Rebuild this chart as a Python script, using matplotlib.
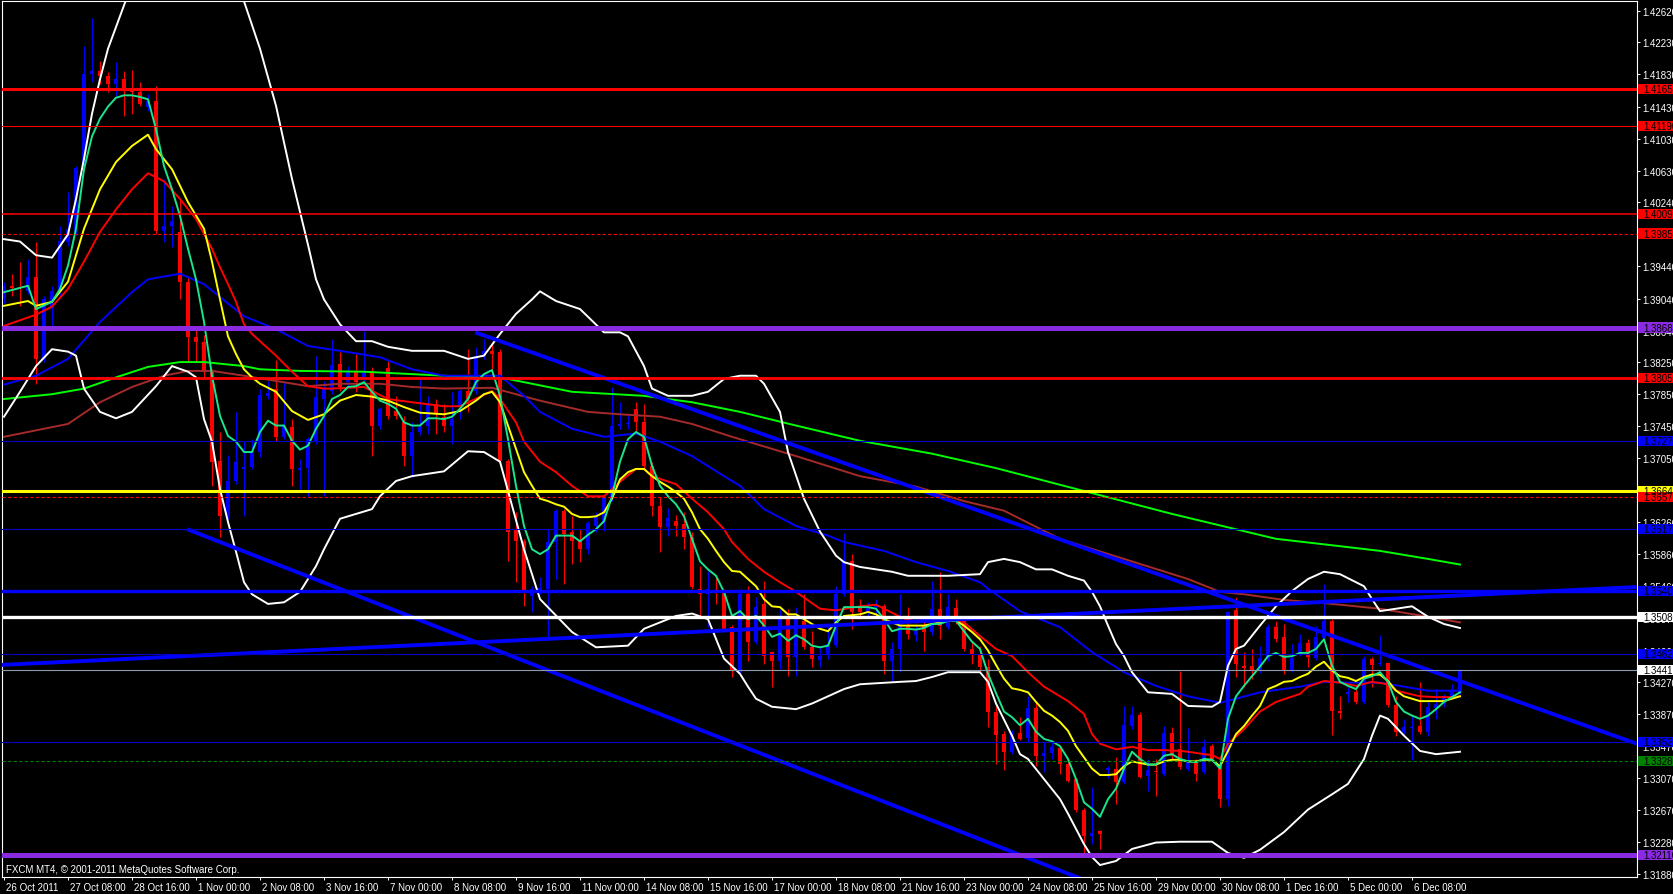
import matplotlib
matplotlib.use("Agg")
import matplotlib.pyplot as plt
from matplotlib.patches import Rectangle
from matplotlib.transforms import blended_transform_factory, ScaledTranslation

plt.rcParams['font.family'] = ['Liberation Sans', 'DejaVu Sans']

# ----------------------------------------------
#            DATA  (EURUSD, H4 candles)
# ----------------------------------------------
time_labels = ["26 Oct 2011", "27 Oct 08:00", "28 Oct 16:00", "1 Nov 00:00", "2 Nov 08:00",
               "3 Nov 16:00", "7 Nov 00:00", "8 Nov 08:00", "9 Nov 16:00", "11 Nov 00:00",
               "14 Nov 08:00", "15 Nov 16:00", "17 Nov 00:00", "18 Nov 08:00", "21 Nov 16:00",
               "23 Nov 00:00", "24 Nov 08:00", "25 Nov 16:00", "29 Nov 00:00", "30 Nov 08:00",
               "1 Dec 16:00", "5 Dec 00:00", "6 Dec 08:00"]
time_label_bars = [0, 8, 16, 24, 32, 40, 48, 56, 64, 72, 80, 88, 96, 104, 112, 120,
                   128, 136, 144, 152, 160, 168, 176]

price_ticks = [1.42620, 1.42230, 1.41830, 1.41430, 1.41030, 1.40630, 1.40240, 1.39840,
               1.39440, 1.39040, 1.38640, 1.38250, 1.37850, 1.37450, 1.37050, 1.36650,
               1.36260, 1.35860, 1.35460, 1.35070, 1.34660, 1.34270, 1.33870, 1.33470,
               1.33070, 1.32670, 1.32280, 1.31880]

open_ = [1.3903, 1.3920, 1.3918, 1.3914, 1.3931, 1.3829, 1.3891, 1.3914, 1.3974, 1.3987,
         1.4067, 1.4184, 1.4187, 1.4181, 1.4171, 1.4177, 1.4165, 1.4161, 1.4143, 1.4150,
         1.3988, 1.3994, 1.3987, 1.3925, 1.3856, 1.3850, 1.3813, 1.3702, 1.3633, 1.3677,
         1.3692, 1.3694, 1.3713, 1.3783, 1.3792, 1.3732, 1.3744, 1.3691, 1.3693, 1.3726,
         1.3779, 1.3789, 1.3823, 1.3800, 1.3813, 1.3806, 1.3814, 1.3746, 1.3818, 1.3764,
         1.3750, 1.3708, 1.3738, 1.3746, 1.3773, 1.3757, 1.3746, 1.3769, 1.3789, 1.3789,
         1.3831, 1.3839, 1.3838, 1.3702, 1.3617, 1.3602, 1.3534, 1.3541, 1.3543, 1.3601,
         1.3640, 1.3614, 1.3602, 1.3592, 1.3621, 1.3626, 1.3655, 1.3746, 1.3748, 1.3767,
         1.3750, 1.3696, 1.3646, 1.3620, 1.3627, 1.3623, 1.3607, 1.3543, 1.3536, 1.3541,
         1.3539, 1.3495, 1.3439, 1.3536, 1.3477, 1.3524, 1.3464, 1.3453, 1.3505, 1.3458,
         1.3503, 1.3470, 1.3454, 1.3460, 1.3473, 1.3536, 1.3577, 1.3521, 1.3514, 1.3520,
         1.3521, 1.3453, 1.3468, 1.3497, 1.3485, 1.3497, 1.3489, 1.3518, 1.3495, 1.3519,
         1.3503, 1.3468, 1.3460, 1.3446, 1.3390, 1.3362, 1.3340, 1.3363, 1.3357, 1.3395,
         1.3335, 1.3338, 1.3345, 1.3325, 1.3306, 1.3268, 1.3235, 1.3241, 1.3317, 1.3319,
         1.3302, 1.3372, 1.3386, 1.3310, 1.3316, 1.3312, 1.3363, 1.3344, 1.3319, 1.3327,
         1.3315, 1.3347, 1.3322, 1.3281, 1.3516, 1.3447, 1.3447, 1.3441, 1.3456, 1.3495,
         1.3483, 1.3442, 1.3463, 1.3475, 1.3457, 1.3482, 1.3503, 1.3391, 1.3412, 1.3414,
         1.3402, 1.3456, 1.3449, 1.3450, 1.3398, 1.3365, 1.3370, 1.3372, 1.3365, 1.3395,
         1.3400, 1.3410, 1.3414]
high = [1.3925, 1.3935, 1.3950, 1.3953, 1.3975, 1.3907, 1.3920, 1.3994, 1.4037, 1.4069,
        1.4218, 1.4253, 1.4200, 1.4186, 1.4199, 1.4187, 1.4189, 1.4174, 1.4159, 1.4169,
        1.4053, 1.4019, 1.4028, 1.3931, 1.3866, 1.3859, 1.3816, 1.3738, 1.3709, 1.3763,
        1.3727, 1.3729, 1.3792, 1.3801, 1.3828, 1.3801, 1.3754, 1.3704, 1.3732, 1.3833,
        1.3801, 1.3854, 1.3838, 1.3820, 1.3835, 1.3864, 1.3819, 1.3769, 1.3826, 1.3783,
        1.3758, 1.3750, 1.3804, 1.3783, 1.3779, 1.3773, 1.3788, 1.3792, 1.3841, 1.3844,
        1.3854, 1.3850, 1.3841, 1.3704, 1.3638, 1.3605, 1.3546, 1.3558, 1.3617, 1.3642,
        1.3642, 1.3633, 1.3617, 1.3627, 1.3638, 1.3658, 1.3794, 1.3775, 1.3760, 1.3775,
        1.3773, 1.3701, 1.3657, 1.3643, 1.3635, 1.3638, 1.3614, 1.3571, 1.3565, 1.3559,
        1.3543, 1.3498, 1.3543, 1.3546, 1.3533, 1.3552, 1.3466, 1.3518, 1.3518, 1.3520,
        1.3536, 1.3490, 1.3472, 1.3497, 1.3546, 1.3612, 1.3586, 1.3530, 1.3526, 1.3530,
        1.3524, 1.3477, 1.3536, 1.3520, 1.3497, 1.3505, 1.3552, 1.3564, 1.3536, 1.3530,
        1.3505, 1.3477, 1.3472, 1.3456, 1.3397, 1.3366, 1.3367, 1.3383, 1.3409, 1.3402,
        1.3352, 1.3354, 1.3347, 1.3327, 1.3307, 1.3270, 1.3296, 1.3242, 1.3322, 1.3333,
        1.3397, 1.3397, 1.3390, 1.3331, 1.3331, 1.3372, 1.3371, 1.3441, 1.3369, 1.3331,
        1.3356, 1.3350, 1.3325, 1.3515, 1.3533, 1.3464, 1.3468, 1.3472, 1.3499, 1.3503,
        1.3499, 1.3474, 1.3486, 1.3480, 1.3497, 1.3549, 1.3505, 1.3409, 1.3421, 1.3422,
        1.3459, 1.3458, 1.3485, 1.3451, 1.3409, 1.3381, 1.3385, 1.3427, 1.3402, 1.3418,
        1.3412, 1.3424, 1.3443]
low = [1.3899, 1.3907, 1.3895, 1.3910, 1.3798, 1.3825, 1.3864, 1.3907, 1.3970, 1.3983,
       1.4063, 1.4174, 1.4171, 1.4161, 1.4156, 1.4131, 1.4134, 1.4144, 1.4138, 1.3984,
       1.3974, 1.3968, 1.3903, 1.3826, 1.3826, 1.3804, 1.3671, 1.3607, 1.3630, 1.3673,
       1.3633, 1.3692, 1.3707, 1.3779, 1.3727, 1.3729, 1.3671, 1.3667, 1.3657, 1.3723,
       1.3658, 1.3785, 1.3789, 1.3794, 1.3788, 1.3801, 1.3708, 1.3742, 1.3754, 1.3754,
       1.3696, 1.3682, 1.3734, 1.3736, 1.3736, 1.3738, 1.3723, 1.3754, 1.3763, 1.3785,
       1.3829, 1.3808, 1.3698, 1.3577, 1.3551, 1.3521, 1.3514, 1.3536, 1.3480, 1.3555,
       1.3549, 1.3574, 1.3576, 1.3586, 1.3613, 1.3615, 1.3652, 1.3742, 1.3742, 1.3738,
       1.3692, 1.3633, 1.3589, 1.3609, 1.3609, 1.3592, 1.3543, 1.3509, 1.3495, 1.3524,
       1.3490, 1.3433, 1.3437, 1.3453, 1.3474, 1.3449, 1.3421, 1.3443, 1.3434, 1.3434,
       1.3468, 1.3446, 1.3446, 1.3456, 1.3470, 1.3534, 1.3493, 1.3505, 1.3508, 1.3511,
       1.3437, 1.3428, 1.3439, 1.3480, 1.3478, 1.3465, 1.3485, 1.3480, 1.3493, 1.3499,
       1.3465, 1.3449, 1.3439, 1.3371, 1.3325, 1.3317, 1.3337, 1.3355, 1.3352, 1.3322,
       1.3315, 1.3331, 1.3312, 1.3302, 1.3265, 1.3213, 1.3225, 1.3219, 1.3307, 1.3275,
       1.3300, 1.3368, 1.3307, 1.3291, 1.3285, 1.3310, 1.3331, 1.3319, 1.3316, 1.3304,
       1.3312, 1.3328, 1.3271, 1.3272, 1.3433, 1.3421, 1.3431, 1.3438, 1.3453, 1.3477,
       1.3437, 1.3439, 1.3459, 1.3446, 1.3454, 1.3479, 1.3361, 1.3381, 1.3402, 1.3399,
       1.3399, 1.3421, 1.3447, 1.3396, 1.3360, 1.3362, 1.3330, 1.3362, 1.3360, 1.3381,
       1.3396, 1.3407, 1.3412]
close_ = [1.3920, 1.3917, 1.3917, 1.3931, 1.3829, 1.3903, 1.3914, 1.3976, 1.3991, 1.4067,
          1.4184, 1.4187, 1.4181, 1.4171, 1.4177, 1.4165, 1.4161, 1.4146, 1.4150, 1.3988,
          1.3994, 1.4001, 1.3925, 1.3856, 1.3850, 1.3813, 1.3701, 1.3633, 1.3677, 1.3701,
          1.3694, 1.3714, 1.3784, 1.3786, 1.3732, 1.3746, 1.3692, 1.3693, 1.3729, 1.3782,
          1.3792, 1.3821, 1.3794, 1.3813, 1.3800, 1.3813, 1.3746, 1.3767, 1.3758, 1.3758,
          1.3708, 1.3738, 1.3744, 1.3773, 1.3760, 1.3746, 1.3754, 1.3789, 1.3779, 1.3833,
          1.3839, 1.3835, 1.3702, 1.3614, 1.3602, 1.3540, 1.3543, 1.3544, 1.3601, 1.3640,
          1.3611, 1.3602, 1.3592, 1.3625, 1.3633, 1.3656, 1.3746, 1.3748, 1.3749, 1.3750,
          1.3696, 1.3646, 1.3620, 1.3631, 1.3621, 1.3607, 1.3545, 1.3536, 1.3543, 1.3539,
          1.3493, 1.3441, 1.3536, 1.3477, 1.3520, 1.3459, 1.3453, 1.3505, 1.3458, 1.3505,
          1.3470, 1.3456, 1.3459, 1.3474, 1.3536, 1.3577, 1.3514, 1.3514, 1.3520, 1.3521,
          1.3453, 1.3468, 1.3503, 1.3487, 1.3490, 1.3489, 1.3518, 1.3497, 1.3520, 1.3503,
          1.3468, 1.3460, 1.3446, 1.3390, 1.3361, 1.3340, 1.3363, 1.3356, 1.3395, 1.3335,
          1.3338, 1.3346, 1.3325, 1.3304, 1.3268, 1.3235, 1.3239, 1.3238, 1.3320, 1.3302,
          1.3373, 1.3386, 1.3309, 1.3317, 1.3315, 1.3363, 1.3335, 1.3321, 1.3327, 1.3312,
          1.3346, 1.3331, 1.3281, 1.3514, 1.3449, 1.3444, 1.3441, 1.3457, 1.3495, 1.3480,
          1.3441, 1.3457, 1.3475, 1.3458, 1.3483, 1.3503, 1.3391, 1.3388, 1.3414, 1.3402,
          1.3456, 1.3448, 1.3450, 1.3398, 1.3365, 1.3371, 1.3371, 1.3365, 1.3396, 1.3400,
          1.3410, 1.3416, 1.3441]

# fast moving average (spring green)
fast_bars = [0, 3, 4] + list(range(6, 183))
fast_vals = [1.3912, 1.3920, 1.3891, 1.3900, 1.3916, 1.3945, 1.3991, 1.4065, 1.4106, 1.4128,
             1.4143, 1.4154, 1.4157, 1.4157, 1.4155, 1.4152, 1.4115, 1.4069, 1.4040, 1.4007,
             1.3966, 1.3928, 1.3875, 1.3808, 1.3758, 1.3733, 1.3726, 1.3713, 1.3713, 1.3738,
             1.3752, 1.3746, 1.3746, 1.3727, 1.3716, 1.3721, 1.3742, 1.3758, 1.3779, 1.3784,
             1.3794, 1.3795, 1.3800, 1.3788, 1.3777, 1.3773, 1.3767, 1.3750, 1.3746, 1.3746,
             1.3755, 1.3755, 1.3754, 1.3757, 1.3767, 1.3779, 1.3800, 1.3810, 1.3815, 1.3783,
             1.3729, 1.3671, 1.3621, 1.3592, 1.3586, 1.3592, 1.3609, 1.3609, 1.3609, 1.3602,
             1.3610, 1.3617, 1.3627, 1.3658, 1.3701, 1.3729, 1.3738, 1.3732, 1.3696, 1.3671,
             1.3658, 1.3648, 1.3633, 1.3605, 1.3577, 1.3567, 1.3559, 1.3539, 1.3509, 1.3515,
             1.3505, 1.3509, 1.3497, 1.3483, 1.3487, 1.3478, 1.3485, 1.3480, 1.3472, 1.3470,
             1.3472, 1.3497, 1.3520, 1.3520, 1.3520, 1.3520, 1.3518, 1.3505, 1.3490, 1.3493,
             1.3493, 1.3492, 1.3494, 1.3499, 1.3499, 1.3503, 1.3503, 1.3490, 1.3477, 1.3468,
             1.3437, 1.3413, 1.3390, 1.3383, 1.3373, 1.3381, 1.3365, 1.3356, 1.3353, 1.3347,
             1.3331, 1.3306, 1.3277, 1.3269, 1.3259, 1.3281, 1.3294, 1.3319, 1.3340, 1.3331,
             1.3324, 1.3324, 1.3335, 1.3337, 1.3331, 1.3328, 1.3327, 1.3331, 1.3330, 1.3319,
             1.3381, 1.3409, 1.3422, 1.3434, 1.3446, 1.3459, 1.3463, 1.3458, 1.3459, 1.3463,
             1.3463, 1.3468, 1.3480, 1.3447, 1.3427, 1.3422, 1.3418, 1.3431, 1.3434, 1.3439,
             1.3427, 1.3402, 1.3390, 1.3385, 1.3381, 1.3385, 1.3393, 1.3402, 1.3408, 1.3414]

# yellow moving average
yellow_bars = [0, 3, 4, 6, 8, 10, 12, 14, 16, 18,
               19, 21, 23, 25, 26, 27, 28, 29, 30, 31,
               32, 34, 36, 38, 40, 42, 44, 46, 48, 50,
               52, 55, 57, 59, 60, 61] + list(range(62, 183))
yellow_vals = [1.3895, 1.3901, 1.3895, 1.3900, 1.3925, 1.3991, 1.4040, 1.4074, 1.4094, 1.4108,
               1.4090, 1.4065, 1.4024, 1.3991, 1.3950, 1.3903, 1.3857, 1.3835, 1.3816, 1.3806,
               1.3798, 1.3788, 1.3764, 1.3753, 1.3760, 1.3777, 1.3784, 1.3782, 1.3777, 1.3769,
               1.3762, 1.3760, 1.3764, 1.3777, 1.3785, 1.3788,
               1.3775, 1.3746, 1.3717, 1.3688, 1.3671, 1.3655, 1.3652, 1.3648, 1.3645, 1.3636,
               1.3632, 1.3632, 1.3633, 1.3638, 1.3655, 1.3679, 1.3688, 1.3692, 1.3692, 1.3683,
               1.3676, 1.3670, 1.3663, 1.3655, 1.3638, 1.3617, 1.3605, 1.3590, 1.3576, 1.3565,
               1.3564, 1.3555, 1.3546, 1.3530, 1.3521, 1.3520, 1.3511, 1.3511, 1.3505, 1.3499,
               1.3493, 1.3490, 1.3501, 1.3509, 1.3510, 1.3511, 1.3514, 1.3511, 1.3505, 1.3501,
               1.3497, 1.3497, 1.3497, 1.3497, 1.3499, 1.3501, 1.3503, 1.3503, 1.3497, 1.3489,
               1.3480, 1.3466, 1.3448, 1.3431, 1.3419, 1.3417, 1.3414, 1.3402, 1.3391, 1.3385,
               1.3377, 1.3366, 1.3347, 1.3333, 1.3319, 1.3311, 1.3311, 1.3312, 1.3322, 1.3328,
               1.3326, 1.3324, 1.3324, 1.3328, 1.3330, 1.3330, 1.3328, 1.3328, 1.3330, 1.3330,
               1.3322, 1.3341, 1.3362, 1.3372, 1.3385, 1.3397, 1.3418, 1.3422, 1.3427, 1.3428,
               1.3433, 1.3437, 1.3446, 1.3452, 1.3441, 1.3434, 1.3432, 1.3428, 1.3433, 1.3436,
               1.3436, 1.3428, 1.3416, 1.3409, 1.3406, 1.3403, 1.3403, 1.3403, 1.3403, 1.3406,
               1.3409]

# red moving average
red_bars = [0, 4, 6, 8, 10, 12, 14, 16, 18, 20,
            22, 24, 26, 27, 28, 29, 30, 31, 32, 34,
            36, 38, 40, 41, 45, 48, 51, 55, 57, 61,
            62, 64, 65, 67, 69, 71, 73, 75, 77, 79,
            80, 81, 84, 86, 88, 90, 91, 93, 95, 97,
            99, 102, 104, 107, 109, 110, 112, 114, 116, 118,
            120, 122, 124, 126, 128, 130, 133, 135, 136, 137,
            139, 141, 143, 145, 147, 148, 150, 151, 152, 153,
            155, 157, 159, 162, 163, 165, 167, 169, 171, 173,
            174, 177, 179, 181, 182]
red_vals = [1.3870, 1.3884, 1.3894, 1.3916, 1.3950, 1.3987, 1.4015, 1.4040, 1.4060, 1.4050,
            1.4028, 1.4003, 1.3966, 1.3943, 1.3922, 1.3900, 1.3872, 1.3860, 1.3851, 1.3833,
            1.3813, 1.3795, 1.3792, 1.3792, 1.3794, 1.3779, 1.3775, 1.3770, 1.3770, 1.3789,
            1.3779, 1.3750, 1.3726, 1.3701, 1.3688, 1.3671, 1.3658, 1.3658, 1.3676, 1.3692,
            1.3692, 1.3683, 1.3673, 1.3655, 1.3638, 1.3617, 1.3601, 1.3580, 1.3564, 1.3551,
            1.3539, 1.3518, 1.3516, 1.3521, 1.3523, 1.3518, 1.3508, 1.3501, 1.3503, 1.3505,
            1.3501, 1.3484, 1.3468, 1.3459, 1.3439, 1.3421, 1.3403, 1.3387, 1.3362, 1.3350,
            1.3343, 1.3346, 1.3342, 1.3342, 1.3341, 1.3340, 1.3337, 1.3336, 1.3331, 1.3350,
            1.3368, 1.3390, 1.3402, 1.3412, 1.3421, 1.3428, 1.3426, 1.3422, 1.3427, 1.3424,
            1.3416, 1.3409, 1.3408, 1.3408, 1.3409]

# blue moving average
blue_bars = [0, 4, 8, 12, 16, 18, 22, 25, 30, 34,
             38, 42, 47, 51, 55, 62, 65, 67, 71, 75,
             79, 82, 86, 90, 92, 95, 99, 103, 105, 110,
             114, 118, 122, 123, 127, 132, 136, 140, 144, 148,
             152, 154, 157, 162, 165, 168, 172, 175, 178, 182]
blue_vals = [1.3797, 1.3808, 1.3829, 1.3875, 1.3912, 1.3928, 1.3935, 1.3922, 1.3882, 1.3866,
             1.3845, 1.3839, 1.3831, 1.3816, 1.3808, 1.3808, 1.3783, 1.3763, 1.3742, 1.3732,
             1.3736, 1.3726, 1.3708, 1.3683, 1.3671, 1.3642, 1.3621, 1.3609, 1.3601, 1.3590,
             1.3576, 1.3565, 1.3551, 1.3543, 1.3515, 1.3495, 1.3464, 1.3439, 1.3422, 1.3409,
             1.3401, 1.3406, 1.3414, 1.3421, 1.3427, 1.3426, 1.3426, 1.3421, 1.3416, 1.3416]

# brown moving average
brown_bars = [0, 8, 12, 16, 20, 23, 26, 30, 38, 42,
              47, 51, 55, 61, 67, 73, 77, 82, 86, 91,
              99, 107, 114, 120, 125, 132, 140, 148, 152, 155,
              160, 166, 172, 178, 182]
brown_vals = [1.3732, 1.3748, 1.3775, 1.3794, 1.3808, 1.3814, 1.3814, 1.3808, 1.3795, 1.3798,
              1.3798, 1.3794, 1.3792, 1.3793, 1.3777, 1.3763, 1.3760, 1.3757, 1.3748, 1.3732,
              1.3708, 1.3683, 1.3670, 1.3652, 1.3640, 1.3605, 1.3580, 1.3555, 1.3539, 1.3536,
              1.3529, 1.3524, 1.3518, 1.3508, 1.3501]

# slow green moving average
green_bars = [0, 6, 10, 14, 18, 22, 25, 30, 32, 37,
              45, 55, 63, 71, 80, 86, 92, 99, 107, 116,
              124, 146, 159, 166, 172, 178, 182]
green_vals = [1.3779, 1.3785, 1.3792, 1.3806, 1.3819, 1.3825, 1.3825, 1.3820, 1.3816, 1.3814,
              1.3813, 1.3808, 1.3804, 1.3788, 1.3783, 1.3775, 1.3763, 1.3746, 1.3727, 1.3711,
              1.3693, 1.3636, 1.3605, 1.3597, 1.3590, 1.3580, 1.3573]

# bollinger bands
bb_up_bars = [0, 2, 4, 6, 8, 9, 10, 11, 12, 13,
              14, 16, 19, 22, 25, 28, 30, 32, 34, 36,
              38, 39, 40, 42, 44, 46, 48, 51, 55, 58,
              60, 62, 64, 66, 67, 69, 72, 75, 77, 78,
              80, 81, 83, 86, 88, 90, 92, 94, 95, 97,
              98, 100, 102, 104, 105, 107, 111, 113, 118, 122,
              123, 125, 127, 129, 131, 133, 135, 136, 137, 138,
              139, 140, 141, 143, 146, 148, 151, 152, 153, 154,
              155, 157, 159, 161, 163, 165, 167, 169, 170, 171,
              172, 174, 176, 178, 180, 182]
bb_up_vals = [1.3978, 1.3975, 1.3958, 1.3955, 1.3984, 1.4028, 1.4078, 1.4134, 1.4177, 1.4215,
              1.4242, 1.4296, 1.4352, 1.4376, 1.4364, 1.4314, 1.4274, 1.4215, 1.4144, 1.4053,
              1.3971, 1.3928, 1.3903, 1.3872, 1.3851, 1.3851, 1.3844, 1.3839, 1.3839, 1.3829,
              1.3833, 1.3860, 1.3885, 1.3903, 1.3913, 1.3901, 1.3891, 1.3862, 1.3862, 1.3857,
              1.3820, 1.3792, 1.3783, 1.3783, 1.3788, 1.3804, 1.3808, 1.3808, 1.3798, 1.3763,
              1.3713, 1.3655, 1.3614, 1.3584, 1.3576, 1.3570, 1.3564, 1.3559, 1.3559, 1.3561,
              1.3576, 1.3580, 1.3576, 1.3567, 1.3567, 1.3559, 1.3553, 1.3539, 1.3521, 1.3497,
              1.3474, 1.3459, 1.3439, 1.3414, 1.3412, 1.3397, 1.3396, 1.3402, 1.3447, 1.3468,
              1.3472, 1.3497, 1.3521, 1.3540, 1.3555, 1.3564, 1.3561, 1.3551, 1.3546, 1.3530,
              1.3515, 1.3518, 1.3521, 1.3508, 1.3499, 1.3494]
bb_low_bars = [0, 2, 4, 6, 8, 9, 10, 12, 14, 16,
               19, 21, 23, 24, 25, 26, 27, 28, 29, 30,
               31, 33, 35, 37, 39, 40, 42, 44, 46, 47,
               49, 51, 55, 58, 60, 62, 65, 67, 71, 74,
               78, 80, 84, 86, 88, 90, 92, 93, 94, 96,
               99, 101, 103, 105, 107, 112, 114, 116, 118, 122,
               123, 124, 126, 127, 128, 130, 132, 133, 135, 136,
               137, 139, 141, 144, 147, 151, 153, 155, 157, 160,
               163, 166, 168, 170, 171, 172, 173, 175, 177, 179,
               182]
bb_low_vals = [1.3757, 1.3788, 1.3820, 1.3841, 1.3838, 1.3833, 1.3792, 1.3763, 1.3755, 1.3763,
               1.3795, 1.3820, 1.3813, 1.3806, 1.3754, 1.3726, 1.3667, 1.3626, 1.3589, 1.3551,
               1.3536, 1.3524, 1.3526, 1.3539, 1.3571, 1.3592, 1.3630, 1.3636, 1.3642, 1.3658,
               1.3677, 1.3683, 1.3689, 1.3714, 1.3713, 1.3701, 1.3592, 1.3530, 1.3489, 1.3470,
               1.3472, 1.3493, 1.3509, 1.3512, 1.3505, 1.3456, 1.3437, 1.3421, 1.3406, 1.3396,
               1.3393, 1.3400, 1.3409, 1.3418, 1.3424, 1.3427, 1.3428, 1.3433, 1.3439, 1.3439,
               1.3427, 1.3400, 1.3360, 1.3337, 1.3331, 1.3306, 1.3281, 1.3263, 1.3225, 1.3209,
               1.3199, 1.3204, 1.3219, 1.3227, 1.3228, 1.3228, 1.3214, 1.3208, 1.3218, 1.3240,
               1.3268, 1.3287, 1.3300, 1.3331, 1.3360, 1.3385, 1.3381, 1.3360, 1.3341, 1.3337,
               1.3340]

# drawn trend lines (bar index / price of both ends)
trend_upper = ([58.9, 204.1], [1.3862, 1.3350])
trend_lower = ([22.9, 140.0], [1.3617, 1.3161])
trend_flat = ([-0.5, 204.1], [1.3448, 1.3545])

# horizontal lines: price, line colour, width, style, label box colour
hlines = [
    (1.41650, '#ff0000', 2.2, '-', '#ff0000'),
    (1.41190, '#ff0000', 0.8, '-', '#ff0000'),
    (1.40090, '#ff0000', 1.1, '-', '#ff0000'),
    (1.39850, '#ff0000', 0.8, (0, (3, 2)), '#ff0000'),
    (1.38680, '#8a2be2', 3.6, '-', '#8a2be2'),
    (1.38050, '#ff0000', 2.0, '-', '#ff0000'),
    (1.37270, '#0000c8', 0.8, '-', '#0000ff'),
    (1.36647, '#ffff00', 2.2, '-', '#ffff00'),
    (1.36570, '#ff0000', 0.8, (0, (3, 2)), '#ff0000'),
    (1.36170, '#0000c8', 0.8, '-', '#0000ff'),
    (1.35400, '#0000ff', 2.4, '-', '#0000ff'),
    (1.35080, '#ffffff', 2.4, '-', '#ffffff'),
    (1.34620, '#0000c8', 0.8, '-', '#0000ff'),
    (1.34419, '#8c9bab', 0.8, '-', '#ffffff'),
    (1.33520, '#0000c8', 0.8, '-', '#0000ff'),
    (1.33280, '#008000', 0.8, (0, (3, 2)), '#008000'),
    (1.32110, '#8a2be2', 3.6, '-', '#8a2be2'),
]

# ----------------------------------------------
#                  PLOT
# ----------------------------------------------
fig = plt.figure(figsize=(16.74, 8.95), dpi=100, facecolor='black')
ax = fig.add_axes([2 / 1674, 17 / 895, 1635 / 1674, 876 / 895], facecolor='black')
ax.set_xlim(-0.25, 204.125)
ax.set_ylim(1.31841, 1.42744)

# candles: blue = up, red = down
bars = list(range(len(close_)))
cols = ['#0000ff' if c >= o else '#ff0000' for o, c in zip(open_, close_)]
ax.vlines(bars, low, high, colors=cols, lw=0.8, zorder=2)
bottoms = [min(o, c) for o, c in zip(open_, close_)]
heights = [max(abs(c - o), 0.00009) for o, c in zip(open_, close_)]
ax.bar(bars, heights, bottom=bottoms, width=0.6, color=cols, linewidth=0, zorder=2)

# indicators
ax.plot(green_bars, green_vals, color='#00ff00', lw=1.4, zorder=3)
ax.plot(brown_bars, brown_vals, color='#a52a2a', lw=1.4, zorder=3)
ax.plot(blue_bars, blue_vals, color='#0000ff', lw=1.4, zorder=3)
ax.plot(bb_up_bars, bb_up_vals, color='white', lw=1.4, zorder=3)
ax.plot(bb_low_bars, bb_low_vals, color='white', lw=1.4, zorder=3)
ax.plot(red_bars, red_vals, color='#ff0000', lw=1.4, zorder=3)
ax.plot(yellow_bars, yellow_vals, color='#ffff00', lw=1.4, zorder=3)
ax.plot(fast_bars, fast_vals, color='#19e68c', lw=1.4, zorder=3)

# objects
for xs, ys in (trend_upper, trend_lower, trend_flat):
    ax.plot(xs, ys, color='#0000ff', lw=2.8, zorder=4, solid_capstyle='butt')

trans = blended_transform_factory(ax.transAxes, ax.transData)
box_h = 0.00125
for price, color, lw, ls, box in hlines:
    ax.axhline(price, color=color, lw=lw, ls=ls, zorder=4)
    ax.add_patch(Rectangle((1.0006, price - box_h / 2), 0.04, box_h, transform=trans,
                           facecolor=box, edgecolor='none', clip_on=False, zorder=10))
    ax.text(1.0037, price, f"{price:.5f}", transform=trans, color='black', fontsize=7,
            ha='left', va='center', clip_on=False, zorder=11)

# axes cosmetics
for sp in ax.spines.values():
    sp.set_color('white')
    sp.set_linewidth(0.8)

ax.yaxis.tick_right()
ax.set_yticks(price_ticks)
ax.set_yticklabels([f"{t:.5f}" for t in price_ticks])
ax.tick_params(axis='y', colors='white', length=2.5, width=0.7, pad=1.5, labelsize=7)

ax.set_xticks(time_label_bars)
ax.set_xticklabels(time_labels)
ax.tick_params(axis='x', colors='white', length=2.2, width=0.7, pad=1.5, labelsize=7)
shift = ScaledTranslation(2 / 100, 0, fig.dpi_scale_trans)
for lbl in ax.get_xticklabels():
    lbl.set_horizontalalignment('left')
    lbl.set_transform(lbl.get_transform() + shift)

fig.text(6 / 1674, 25 / 895, "FXCM MT4, \u00a9 2001-2011 MetaQuotes Software Corp.",
         color='white', fontsize=7, va='center', ha='left')

fig.savefig('out.png', dpi=100, facecolor='black')
